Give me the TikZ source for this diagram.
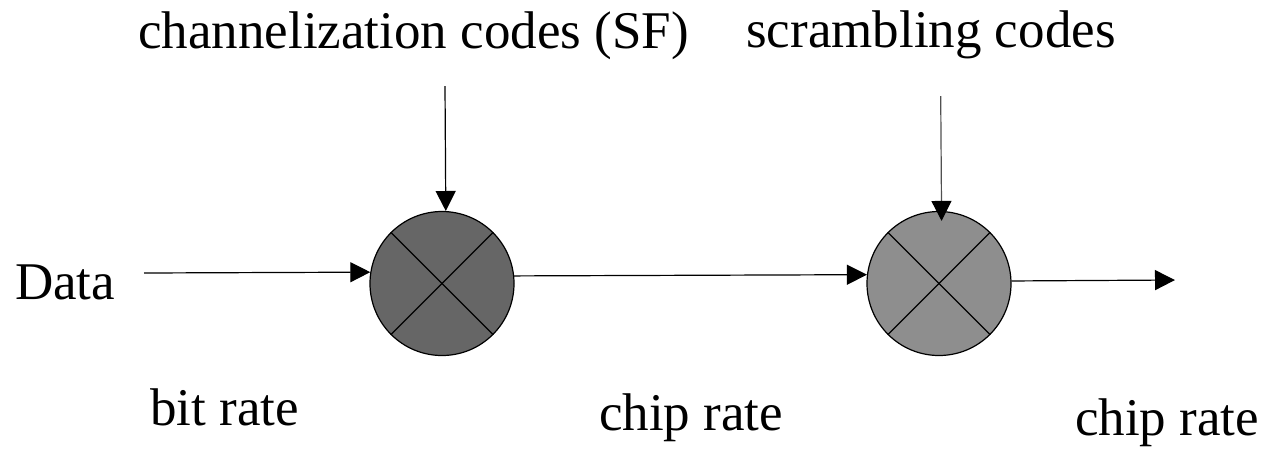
\documentclass[tikz,border=0pt]{standalone}
\usepackage{fontspec}
\setmainfont{Liberation Serif}
\usetikzlibrary{arrows.meta}
\definecolor{mixdark}{HTML}{666666}
\definecolor{mixlight}{HTML}{8E8E8E}
\definecolor{feedgray}{HTML}{505050}
\begin{document}
\begin{tikzpicture}[x=1pt,y=-1pt,
  lbl/.style={anchor=base west,inner sep=0pt,font=\fontsize{53}{60}\selectfont},
  mixer/.style={circle,draw=black,line width=1.2pt,minimum size=144pt,inner sep=0pt},
  flow/.style={line width=1.2pt,-{Triangle[length=20pt,width=20pt,color=black]}},
  plain/.style={line width=1.2pt}]
\useasboundingbox (0,0) rectangle (1263,448);

% multipliers
\node[mixer,fill=mixdark] (m1) at (442,283.5) {};
\node[mixer,fill=mixlight] (m2) at (939,283.5) {};
\foreach \m in {m1,m2}{
  \draw[plain] (\m.45) -- (\m.225);
  \draw[plain] (\m.135) -- (\m.315);
}

% labels
\node[lbl] (ch) at (138,48) {channelization codes (SF)};
\node[lbl] (sc) at (746,47) {scrambling codes};
\node[lbl] (data) at (15,299) {Data};
\node[lbl] (br) at (150,425) {bit rate};
\node[lbl] (cr1) at (599,430) {chip rate};
\node[lbl] (cr2) at (1075,435) {chip rate};

% connector end points
\coordinate (din) at (144,273);
\coordinate (cin) at (445,86);
\coordinate (sin) at (940.7,96);
\coordinate (out) at (1175,280);

\draw[flow] (din) -- (m1.171.6);
\draw[flow] (m1.6.8) -- (m2.173.2);
\draw[flow] (m2.2.8) -- (out);
\draw[flow] (cin) -- (m1.87.6);
\draw[flow,draw=feedgray,shorten >=-10pt] (sin) -- (m2.88.6);
\end{tikzpicture}
\end{document}
